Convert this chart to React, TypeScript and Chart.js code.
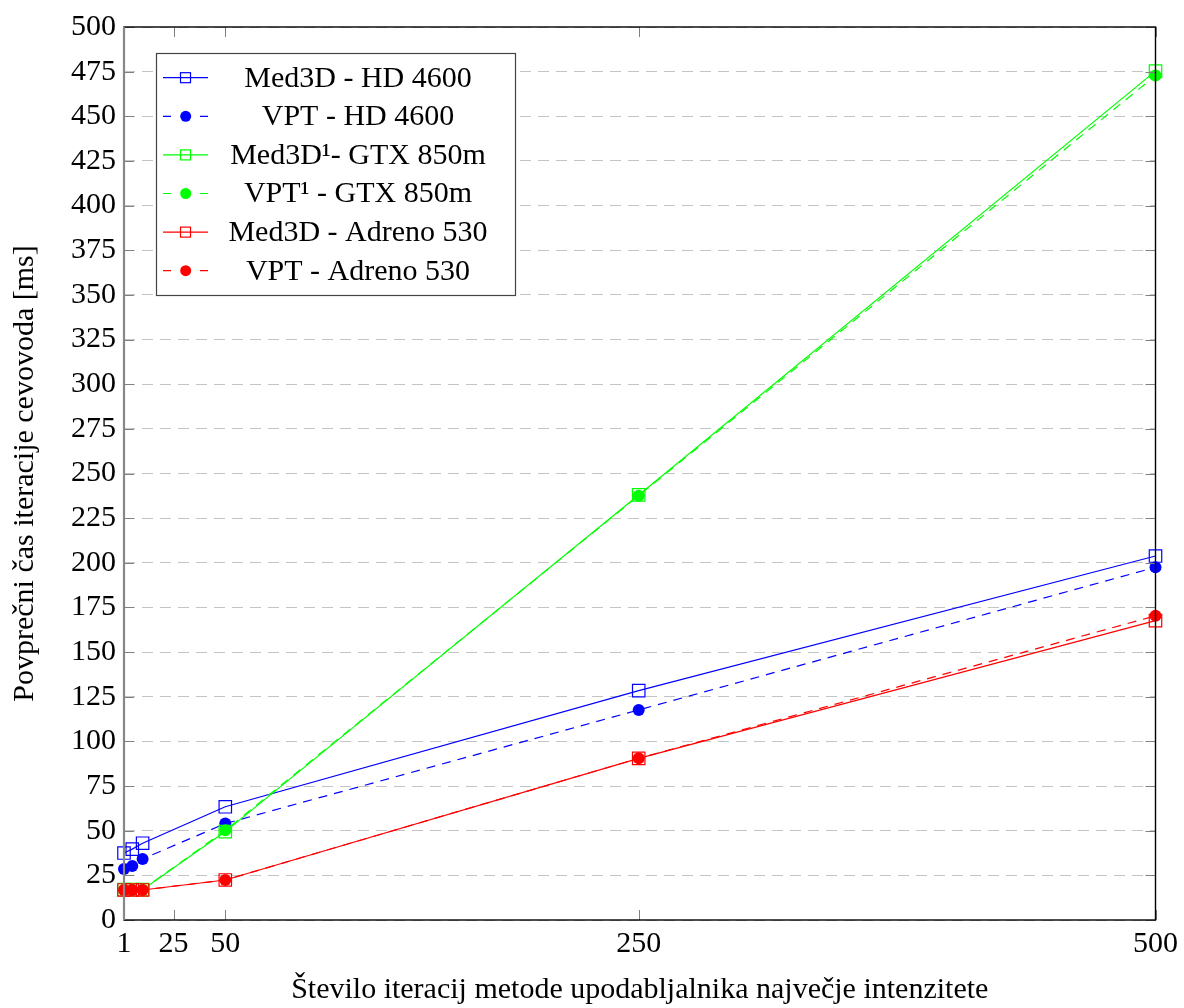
import { useEffect, useRef } from "react";
import { Chart, registerables } from "chart.js";

Chart.register(...registerables);

const iterations = [1, 5, 10, 50, 250, 500];
const xTickValues = [1, 25, 50, 250, 500];
const med3dHD4600 = [37.5, 39.7, 43, 63.4, 128.4, 203.8];
const vptHD4600 = [28.5, 30.2, 34.2, 54, 117.6, 197.5];
const med3dGTX850m = [17, 17, 17, 49.5, 238, 475.3];
const vptGTX850m = [17, 17, 17, 50.2, 237.6, 472.8];
const med3dAdreno530 = [16.8, 16.8, 16.8, 22.4, 90.5, 167.6];
const vptAdreno530 = [16.8, 16.8, 16.8, 22.4, 90.5, 170.3];
const seriesLabels = [
  "Med3D - HD 4600",
  "VPT - HD 4600",
  "Med3D\u00b9- GTX 850m",
  "VPT\u00b9 - GTX 850m",
  "Med3D - Adreno 530",
  "VPT - Adreno 530",
];
const xTitle = "Število iteracij metode upodabljalnika največje intenzitete";
const yTitle = "Povprečni čas iteracije cevovoda [ms]";

const FONT = '"Liberation Serif", "Times New Roman", serif';
const BLUE = "#0000ff";
const GREEN = "#00ff00";
const RED = "#ff0000";

const seriesValues = [med3dHD4600, vptHD4600, med3dGTX850m, vptGTX850m, med3dAdreno530, vptAdreno530];
const seriesColors = [BLUE, BLUE, GREEN, GREEN, RED, RED];

const framePlugin = {
  id: "framePlugin",
  afterDatasetsDraw(chart: any) {
    const { ctx, chartArea: a, scales } = chart;
    const xs = scales.x;
    const ys = scales.y;
    ctx.save();
    // inward ticks
    ctx.strokeStyle = "#808080";
    ctx.lineWidth = 1;
    ctx.setLineDash([]);
    ctx.beginPath();
    for (const t of xTickValues) {
      const px = Math.round(xs.getPixelForValue(t)) + 0.5;
      ctx.moveTo(px, a.bottom);
      ctx.lineTo(px, a.bottom - 10);
      ctx.moveTo(px, a.top);
      ctx.lineTo(px, a.top + 10);
    }
    for (let v = 0; v <= 500; v += 25) {
      const py = Math.round(ys.getPixelForValue(v)) + 0.5;
      ctx.moveTo(a.left, py);
      ctx.lineTo(a.left + 10, py);
      ctx.moveTo(a.right, py);
      ctx.lineTo(a.right - 10, py);
    }
    ctx.stroke();
    // frame
    ctx.strokeStyle = "#000";
    ctx.lineWidth = 1.4;
    ctx.strokeRect(a.left, a.top, a.right - a.left, a.bottom - a.top);
    ctx.strokeStyle = "#888";
    ctx.lineWidth = 2.2;
    ctx.beginPath();
    ctx.moveTo(a.left, a.top);
    ctx.lineTo(a.left, a.bottom);
    ctx.stroke();

    // legend
    const bx = 156, by = 53, bw = 359, bh = 242;
    ctx.fillStyle = "#fff";
    ctx.fillRect(bx, by, bw, bh);
    ctx.strokeStyle = "#444";
    ctx.lineWidth = 1.2;
    ctx.strokeRect(bx + 0.5, by + 0.5, bw, bh);
    chart.data.datasets.forEach((ds: any, i: number) => {
      const cy = 77.7 + i * 38.6;
      ctx.strokeStyle = ds.borderColor;
      ctx.lineWidth = 1.2;
      ctx.setLineDash([]);
      ctx.beginPath();
      if (ds.borderDash && ds.borderDash.length) {
        ctx.moveTo(163, cy); ctx.lineTo(171, cy);
        ctx.moveTo(200, cy); ctx.lineTo(208, cy);
      } else {
        ctx.moveTo(163, cy);
        ctx.lineTo(208, cy);
      }
      ctx.stroke();
      if (ds.pointStyle === "rect") {
        ctx.strokeRect(180.5, cy - 5, 10, 10);
      } else {
        ctx.fillStyle = ds.backgroundColor;
        ctx.beginPath();
        ctx.arc(185.7, cy, 5.5, 0, Math.PI * 2);
        ctx.fill();
      }
      ctx.fillStyle = "#000";
      ctx.font = `30px ${FONT}`;
      ctx.textAlign = "center";
      ctx.textBaseline = "middle";
      ctx.fillText(ds.label, 358, cy + 1);
    });
    ctx.restore();
  },
};

export default function App() {
  const canvasRef = useRef<HTMLCanvasElement>(null);

  useEffect(() => {
    document.body.style.margin = "0";
    const canvas = canvasRef.current;
    if (!canvas) return;
    const datasets = seriesLabels.map((label, i) => {
      const dashed = i % 2 === 1;
      return {
        label,
        data: iterations.map((x, j) => ({ x, y: seriesValues[i][j] })),
        borderColor: seriesColors[i],
        backgroundColor: dashed ? seriesColors[i] : "rgba(0,0,0,0)",
        borderWidth: 1.2,
        borderDash: dashed ? [9, 7] : [],
        pointStyle: dashed ? "circle" : "rect",
        pointRadius: dashed ? 6 : 8.8,
        pointBorderWidth: dashed ? 0 : 1.2,
        pointBackgroundColor: dashed ? seriesColors[i] : "rgba(0,0,0,0)",
        pointBorderColor: seriesColors[i],
        tension: 0,
        clip: false as any,
        order: 5 - i,
      };
    });

    const chart = new Chart(canvas, {
      type: "line",
      data: { datasets: datasets as any },
      options: {
        responsive: false,
        animation: false,
        layout: { padding: { top: 27, right: 26, left: 0, bottom: 0 } },
        plugins: { legend: { display: false }, tooltip: { enabled: false } },
        scales: {
          x: {
            type: "linear",
            min: 1,
            max: 500,
            afterBuildTicks: (scale: any) => {
              scale.ticks = xTickValues.map((v) => ({ value: v }));
            },
            afterFit: (scale: any) => {
              scale.height = 88;
            },
            grid: { display: false, drawTicks: false },
            border: { display: false },
            ticks: {
              autoSkip: false,
              maxRotation: 0,
              padding: 6,
              color: "#000",
              font: { family: FONT, size: 30 },
              callback: (v: any) => String(v),
            },
            title: {
              display: true,
              text: xTitle,
              color: "#000",
              font: { family: FONT, size: 30, lineHeight: 1.2 },
              padding: { top: 0, bottom: 0 },
            },
          },
          y: {
            min: 0,
            max: 500,
            afterFit: (scale: any) => {
              scale.width = 124;
            },
            grid: { color: "#c4c4c4", lineWidth: 1, drawTicks: false },
            border: { display: false, dash: [11, 7] },
            ticks: {
              stepSize: 25,
              padding: 8,
              color: "#000",
              font: { family: FONT, size: 30 },
            },
            title: {
              display: true,
              text: yTitle,
              color: "#000",
              font: { family: FONT, size: 30, lineHeight: 1.2 },
              padding: { top: 7, bottom: 0 },
            },
          },
        },
      },
      plugins: [framePlugin],
    });
    return () => chart.destroy();
  }, []);

  return (
    <div style={{ width: 1184, height: 1008 }}>
      <canvas ref={canvasRef} width={1184} height={1008} />
    </div>
  );
}
